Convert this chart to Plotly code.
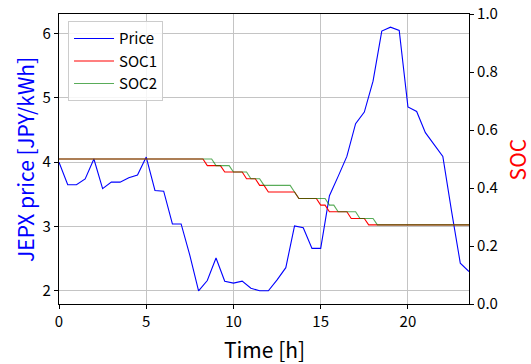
import plotly.graph_objects as go

# Half-hourly time axis (hours) and JEPX price [JPY/kWh]
time_h = [0, 0.5, 1, 1.5, 2, 2.5, 3, 3.5, 4, 4.5, 5, 5.5, 6, 6.5, 7, 7.5,
          8, 8.5, 9, 9.5, 10, 10.5, 11, 11.5, 12, 12.5, 13, 13.5, 14, 14.5, 15, 15.5,
          16, 16.5, 17, 17.5, 18, 18.5, 19, 19.5, 20, 20.5, 21, 21.5, 22, 22.5, 23, 23.5]
price = [4.00, 3.65, 3.65, 3.74, 4.05, 3.59, 3.69, 3.69, 3.76, 3.80, 4.08, 3.56,
         3.55, 3.04, 3.04, 2.55, 2.00, 2.16, 2.51, 2.15, 2.12, 2.15, 2.04, 2.00,
         2.00, 2.17, 2.36, 3.01, 2.98, 2.66, 2.66, 3.48, 3.78, 4.09, 4.60, 4.78,
         5.26, 6.04, 6.10, 6.05, 4.86, 4.79, 4.46, 4.27, 4.09, 3.24, 2.43, 2.30]

# SOC breakpoints (time [h], SOC)
soc1_time = [0, 8.25, 8.5, 9.25, 9.5, 10.5, 10.75, 11.25, 11.5, 11.75, 12.0,
             13.5, 13.75, 14.75, 15.0, 15.25, 15.5, 16.5, 16.75, 17.5, 17.75, 23.5]
soc1 = [0.500, 0.500, 0.477, 0.477, 0.455, 0.455, 0.432, 0.432, 0.409, 0.409, 0.386,
        0.386, 0.364, 0.364, 0.341, 0.341, 0.318, 0.318, 0.295, 0.295, 0.273, 0.273]

soc2_time = [0, 8.75, 9.0, 9.75, 10.0, 10.75, 11.0, 11.5, 11.75, 13.25, 13.5, 13.75,
             15.25, 15.5, 15.75, 16.0, 17.0, 17.25, 18.0, 18.25, 23.5]
soc2 = [0.500, 0.500, 0.477, 0.477, 0.455, 0.455, 0.432, 0.432, 0.409, 0.409, 0.386, 0.364,
        0.364, 0.341, 0.341, 0.318, 0.318, 0.295, 0.295, 0.273, 0.273]

x_ticks = [0, 5, 10, 15, 20]
price_ticks = [2, 3, 4, 5, 6]
soc_ticks = [0.0, 0.2, 0.4, 0.6, 0.8, 1.0]

FONT = "Noto Sans CJK JP"
GRID = "#c4c4c4"

fig = go.Figure()
fig.add_trace(go.Scatter(x=time_h, y=price, mode="lines", name="Price",
                         line=dict(color="#0000ff", width=1.1), yaxis="y"))
fig.add_trace(go.Scatter(x=soc1_time, y=soc1, mode="lines", name="SOC1",
                         line=dict(color="#ff0000", width=1.1), yaxis="y2"))
fig.add_trace(go.Scatter(x=soc2_time, y=soc2, mode="lines", name="SOC2",
                         line=dict(color="rgba(0,128,0,0.65)", width=1.1), yaxis="y2"))

ymin, ymax = min(price), max(price)
pad = (ymax - ymin) * 0.05

fig.update_layout(
    width=531, height=364,
    margin=dict(l=59, r=62, t=14, b=60, autoexpand=False),
    paper_bgcolor="white", plot_bgcolor="white",
    font=dict(family=FONT, size=15, color="black"),
    showlegend=True,
    legend=dict(x=0.022, y=0.975, xanchor="left", yanchor="top",
                bgcolor="rgba(255,255,255,0.85)", bordercolor="#cccccc", borderwidth=1,
                font=dict(size=15), itemwidth=40, tracegroupgap=0),
    xaxis=dict(range=[0, 23.5], tickvals=x_ticks, showgrid=True, gridcolor=GRID,
               gridwidth=1.2, zeroline=False, showline=True, linecolor="black", linewidth=1.2,
               mirror=True, ticks="outside", ticklen=4, tickcolor="black", automargin=False),
    yaxis=dict(range=[ymin - pad, ymax + pad], tickvals=price_ticks, showgrid=True,
               gridcolor=GRID, gridwidth=1.2, zeroline=False, showline=True,
               linecolor="black", linewidth=1.2, ticks="outside", ticklen=4, tickcolor="black",
               automargin=False),
    yaxis2=dict(range=[0, 1], tickvals=soc_ticks, tickformat=".1f", overlaying="y",
                side="right", showgrid=False, zeroline=False, showline=True,
                linecolor="black", linewidth=1.2, ticks="outside", ticklen=4, tickcolor="black",
                automargin=False),
    annotations=[
        dict(text="Time [h]", xref="paper", yref="paper", x=0.5, y=-0.155,
             xanchor="center", yanchor="middle", showarrow=False,
             font=dict(size=21, color="black")),
        dict(text="JEPX price [JPY/kWh]", xref="paper", yref="paper", x=-0.083, y=0.5,
             xanchor="center", yanchor="middle", textangle=-90, showarrow=False,
             font=dict(size=21, color="#0000ff")),
        dict(text="SOC", xref="paper", yref="paper", x=1.118, y=0.5,
             xanchor="center", yanchor="middle", textangle=-90, showarrow=False,
             font=dict(size=21, color="#ff0000")),
    ],
)

# remove the default page margin so the 531x364 figure fills the window exactly
fig.write_html("out.html", config={"displayModeBar": False}, post_script=(
    "document.body.style.margin='0';"
    "document.body.style.overflow='hidden';"
    "document.documentElement.style.overflow='hidden';"))
